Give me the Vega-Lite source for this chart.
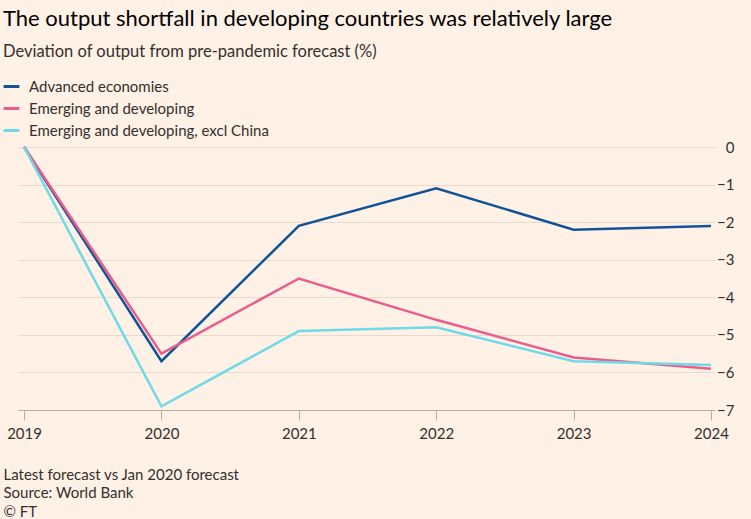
{
  "$schema": "https://vega.github.io/schema/vega-lite/v6.json",
  "width": 697,
  "height": 263,
  "autosize": {"type": "none"},
  "padding": {"left": 18, "top": 147, "right": 36, "bottom": 109},
  "background": "#fff1e5",
  "title": {
    "text": "The output shortfall in developing countries was relatively large",
    "subtitle": "Deviation of output from pre-pandemic forecast (%)",
    "anchor": "start",
    "frame": "group",
    "dx": -15,
    "fontSize": 22,
    "fontWeight": "normal",
    "color": "#000000",
    "subtitleFontSize": 16.5,
    "subtitleColor": "#33302e",
    "subtitlePadding": 13,
    "offset": 16,
    "font": "Lato",
    "subtitleFont": "Lato"
  },
  "config": {
    "view": {"stroke": null},
    "font": "Lato"
  },
  "data": {
    "values": [
      {"year": 2019, "series": "Advanced economies", "value": 0},
      {"year": 2020, "series": "Advanced economies", "value": -5.7},
      {"year": 2021, "series": "Advanced economies", "value": -2.1},
      {"year": 2022, "series": "Advanced economies", "value": -1.1},
      {"year": 2023, "series": "Advanced economies", "value": -2.2},
      {"year": 2024, "series": "Advanced economies", "value": -2.1},
      {"year": 2019, "series": "Emerging and developing", "value": 0},
      {"year": 2020, "series": "Emerging and developing", "value": -5.5},
      {"year": 2021, "series": "Emerging and developing", "value": -3.5},
      {"year": 2022, "series": "Emerging and developing", "value": -4.6},
      {"year": 2023, "series": "Emerging and developing", "value": -5.6},
      {"year": 2024, "series": "Emerging and developing", "value": -5.9},
      {"year": 2019, "series": "Emerging and developing, excl China", "value": 0},
      {"year": 2020, "series": "Emerging and developing, excl China", "value": -6.9},
      {"year": 2021, "series": "Emerging and developing, excl China", "value": -4.9},
      {"year": 2022, "series": "Emerging and developing, excl China", "value": -4.8},
      {"year": 2023, "series": "Emerging and developing, excl China", "value": -5.7},
      {"year": 2024, "series": "Emerging and developing, excl China", "value": -5.8}
    ]
  },
  "mark": {"type": "line", "strokeWidth": 2.5, "strokeJoin": "miter"},
  "encoding": {
    "x": {
      "field": "year",
      "type": "quantitative",
      "scale": {"domain": [2018.956, 2024.029], "nice": false, "zero": false},
      "axis": {
        "values": [2019, 2020, 2021, 2022, 2023, 2024],
        "format": "d",
        "grid": false,
        "domainColor": "#b7ada5",
        "tickColor": "#b7ada5",
        "tickSize": 10,
        "labelFontSize": 15,
        "labelColor": "#33302e",
        "labelPadding": 6,
        "title": ["Latest forecast vs Jan 2020 forecast", "Source: World Bank", "© FT"],
        "titleFontSize": 15,
        "titleFontWeight": "normal",
        "titleColor": "#33302e",
        "titleAlign": "left",
        "titleAnchor": "start",
        "titleBaseline": "top",
        "titleX": -15,
        "titleY": 57,
        "titleLineHeight": 18.5
      }
    },
    "y": {
      "field": "value",
      "type": "quantitative",
      "scale": {"domain": [-7, 0], "nice": false},
      "axis": {
        "orient": "right",
        "values": [0, -1, -2, -3, -4, -5, -6, -7],
        "domain": false,
        "ticks": false,
        "gridColor": "#e6d9ce",
        "gridWidth": 1,
        "labelFontSize": 15,
        "labelColor": "#33302e",
        "labelAlign": "right",
        "labelPadding": 19,
        "title": null
      }
    },
    "color": {
      "field": "series",
      "type": "nominal",
      "scale": {
        "domain": ["Advanced economies", "Emerging and developing", "Emerging and developing, excl China"],
        "range": ["#0f5499", "#e95d8c", "#6fdae6"]
      },
      "legend": {
        "orient": "none",
        "legendX": -16,
        "legendY": -70,
        "title": null,
        "symbolType": "stroke",
        "symbolSize": 250,
        "symbolStrokeWidth": 3,
        "labelFontSize": 15,
        "labelLimit": 500,
        "labelColor": "#33302e",
        "labelOffset": 8,
        "rowPadding": 4
      }
    }
  }
}
